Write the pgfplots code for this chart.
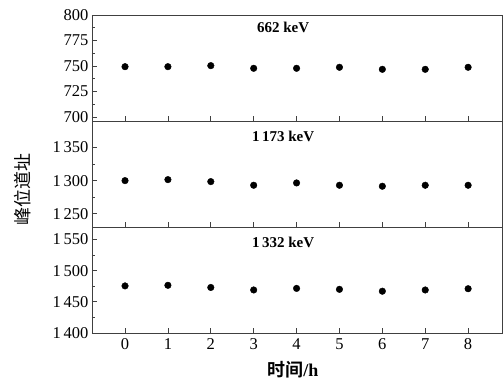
\documentclass[border=0pt]{standalone}
\usepackage{fontspec}
\setmainfont{Liberation Serif}
\newfontfamily\cjk{Noto Sans CJK SC}
\newfontfamily\cjkb{Noto Sans CJK SC Bold}
\usepackage{pgfplots}
\pgfplotsset{compat=1.18}
\usepgfplotslibrary{groupplots}
\begin{document}
\begin{tikzpicture}[font=\fontsize{16}{19}\selectfont]
\begin{groupplot}[
  group style={group size=1 by 3, vertical sep=0pt, x descriptions at=edge bottom},
  width=410pt, height=106pt, scale only axis,
  xmin=-0.77, xmax=8.79, xtick={0,...,8},
  xtick pos=left, ytick pos=left, tick align=inside,
  minor y tick num=1,
  major tick length=5pt, minor tick length=3pt,
  axis line style={line width=0.9pt, black!75},
  every tick/.style={line width=0.7pt, black!75},
  tick label style={font=\fontsize{16.5}{19}\selectfont},
  xticklabel style={yshift=-2pt},
  /pgf/number format/assume math mode=true,
  /pgf/number format/1000 sep={\,},
  clip=false,
]
\nextgroupplot[ymin=696, ymax=800, ytick={700,725,750,775,800}]
\addplot[only marks, mark=*, mark size=3.3pt, black] coordinates {
(0,749.3) (1,749.3) (2,750.3) (3,747.7) (4,747.7) (5,748.7) (6,746.7) (7,746.7) (8,748.7)};
\node[font=\fontsize{15}{18}\selectfont\bfseries] at (rel axis cs:0.466,0.88) {662 keV};
\path (rel axis cs:0,1) ++(-92pt,15pt) coordinate (bbtl);
\path (rel axis cs:1,1) ++(1pt,15pt);

\nextgroupplot[ymin=1230, ymax=1390, ytick={1250,1300,1350},
  ylabel={\cjk 峰位道址}, ylabel style={at={(rel axis cs:-0.17,0.35)}, anchor=center, font=\fontsize{18}{20}\selectfont}]
\addplot[only marks, mark=*, mark size=3.3pt, black] coordinates {
(0,1300) (1,1301.5) (2,1298.5) (3,1293) (4,1296.5) (5,1293) (6,1291.5) (7,1293) (8,1293)};
\node[font=\fontsize{15}{18}\selectfont\bfseries] at (rel axis cs:0.466,0.85) {1\,173 keV};

\nextgroupplot[ymin=1400, ymax=1570, ytick={1400,1450,1500,1550},
  xlabel={{\cjkb 时间}\textbf{/h}}, xlabel style={at={(rel axis cs:0.49,0)}, anchor=center, yshift=-37pt, font=\fontsize{18}{20}\selectfont}]
\addplot[only marks, mark=*, mark size=3.3pt, black] coordinates {
(0,1475.5) (1,1476.5) (2,1473) (3,1469) (4,1471.5) (5,1470) (6,1467) (7,1469) (8,1471)};
\node[font=\fontsize{15}{18}\selectfont\bfseries] at (rel axis cs:0.466,0.85) {1\,332 keV};
\path (rel axis cs:0,0) ++(-92pt,-45pt);
\path (rel axis cs:1,0) ++(1pt,-45pt);
\end{groupplot}
\end{tikzpicture}
\end{document}
